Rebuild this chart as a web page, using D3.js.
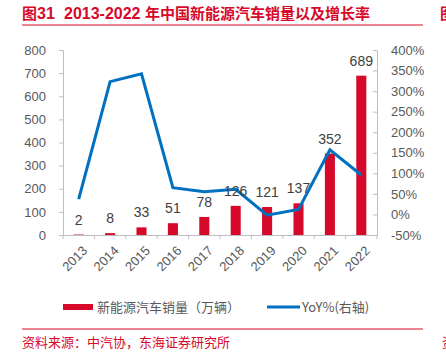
<!DOCTYPE html>
<html>
<head>
<meta charset="utf-8">
<script src="https://cdn.jsdelivr.net/npm/d3@7"></script>
<style>
  body { margin: 0; background: #fff; }
  svg text { font-family: "Liberation Sans", Arial, "Noto Sans CJK SC", sans-serif; }
  .cjk { font-family: "Noto Sans CJK SC", sans-serif !important; }
</style>
</head>
<body>
<div id="chart"></div>
<script>
// data
const years = ["2013","2014","2015","2016","2017","2018","2019","2020","2021","2022"];
const sales = [2, 8, 33, 51, 78, 126, 121, 137, 352, 689];   // 万辆
const yoy = [37, 323, 342, 65, 55, 61, -2, 12, 157, 96];      // %
const leftTicks = [0, 100, 200, 300, 400, 500, 600, 700, 800];
const rightTicks = [-50, 0, 50, 100, 150, 200, 250, 300, 350, 400];

const width = 446, height = 352;
const red = "#d7092a", blue = "#0070c0", grey = "#595959";
const margin = {top: 50, right: 69, bottom: 117, left: 63};

const svg = d3.select("#chart").append("svg").attr("width", width).attr("height", height);

// title
svg.append("text").attr("x", 22).attr("y", 19)
   .attr("font-size", 16).attr("font-weight", "bold").attr("fill", red)
   .html('<tspan class="cjk" font-size="15">图</tspan>31');
svg.append("text").attr("x", 64).attr("y", 19)
   .attr("font-size", 16).attr("font-weight", "bold").attr("fill", red)
   .html('2013-2022 <tspan class="cjk" font-size="15">年中国新能源汽车销量以及增长率</tspan>');
svg.append("text").attr("class", "cjk").attr("x", 440).attr("y", 19)
   .attr("font-size", 15).attr("font-weight", "bold").attr("fill", red).text("图");
svg.append("line").attr("x1", 22).attr("x2", 423).attr("y1", 25).attr("y2", 25)
   .attr("stroke", red).attr("stroke-width", 1.2);

const x = d3.scaleBand().domain(years).range([margin.left, width - margin.right]).paddingInner(0.68).paddingOuter(0.34);
const xTick = d3.scaleBand().domain(years).range([margin.left, width - margin.right]);
const y = d3.scaleLinear().domain([0, 800]).range([height - margin.bottom, margin.top]);
const y2 = d3.scaleLinear().domain([-50, 400]).range([height - margin.bottom, margin.top]);

// left axis
const gl = svg.append("g").attr("transform", `translate(${margin.left},0)`)
  .call(d3.axisLeft(y).tickValues(leftTicks).tickSize(4).tickPadding(13));
// right axis (ticks inward)
const gr = svg.append("g").attr("transform", `translate(${width - margin.right},0)`)
  .call(d3.axisRight(y2).tickValues(rightTicks).tickSize(-4).tickPadding(14).tickFormat(d => d + "%"));
// bottom axis
const gb = svg.append("g").attr("transform", `translate(0,${height - margin.bottom})`)
  .call(d3.axisBottom(xTick).tickSize(0).tickFormat(""));
gb.selectAll(".tk").data(years.concat(["end"])).join("line")
  .attr("x1", (d, i) => margin.left + i * xTick.step()).attr("x2", (d, i) => margin.left + i * xTick.step())
  .attr("y1", 0).attr("y2", 4).attr("stroke", "#bfbfbf");
gb.selectAll(".lbl").data(years).join("text")
  .attr("transform", d => `translate(${xTick(d) + xTick.bandwidth() / 2 + 3},${10}) rotate(-45)`)
  .attr("text-anchor", "end").attr("dy", "0.7em")
  .attr("font-size", 13).attr("fill", grey).text(d => d);

[gl, gr, gb].forEach(g => {
  g.selectAll(".domain").attr("stroke", "#bfbfbf");
  g.selectAll(".tick line").attr("stroke", "#bfbfbf");
  g.selectAll(".tick text").attr("font-size", 13).attr("fill", grey);
});
gr.selectAll(".tick text").attr("x", 14);

// bars
svg.selectAll(".bar").data(sales).join("rect")
  .attr("x", (d, i) => x(years[i])).attr("width", x.bandwidth())
  .attr("y", d => y(d)).attr("height", d => y(0) - y(d)).attr("fill", red);

// line
const line = d3.line().x((d, i) => xTick(years[i]) + xTick.bandwidth() / 2).y(d => y2(d));
svg.append("path").datum(yoy).attr("fill", "none").attr("stroke", blue)
  .attr("stroke-width", 3).attr("stroke-linejoin", "miter").attr("d", line);

// value labels
svg.selectAll(".val").data(sales).join("text")
  .attr("x", (d, i) => xTick(years[i]) + xTick.bandwidth() / 2).attr("y", d => y(d) - 10)
  .attr("text-anchor", "middle").attr("font-size", 14).attr("fill", "#404040").text(d => d);

// legend
svg.append("rect").attr("x", 63).attr("y", 304).attr("width", 30).attr("height", 6).attr("fill", red);
svg.append("text").attr("class", "cjk").attr("x", 97).attr("y", 312).attr("font-size", 13).attr("fill", grey)
   .text("新能源汽车销量（万辆）");
svg.append("line").attr("x1", 267).attr("x2", 300).attr("y1", 307).attr("y2", 307).attr("stroke", blue).attr("stroke-width", 3);
svg.append("text").attr("class", "cjk").attr("x", 302).attr("y", 312).attr("font-size", 13).attr("fill", grey)
   .text("YoY%(右轴)");

// footer
svg.append("line").attr("x1", 22).attr("x2", 423).attr("y1", 329).attr("y2", 329)
   .attr("stroke", red).attr("stroke-width", 1.2);
svg.append("text").attr("class", "cjk").attr("x", 22).attr("y", 347).attr("font-size", 13).attr("fill", red)
   .text("资料来源：中汽协，东海证券研究所");
svg.append("text").attr("class", "cjk").attr("x", 442).attr("y", 347).attr("font-size", 13).attr("fill", red).text("资");
</script>
</body>
</html>
